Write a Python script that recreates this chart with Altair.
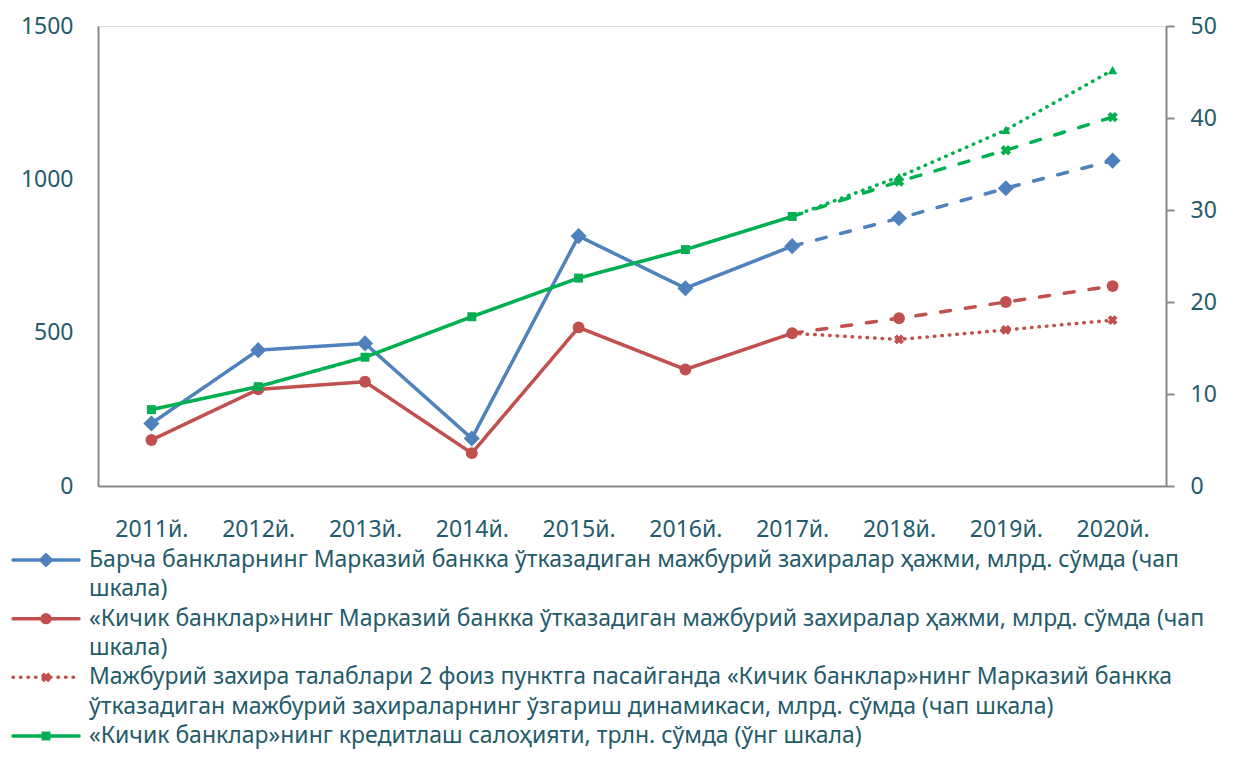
import altair as alt
import pandas as pd

# ---------------- data ----------------
years = ["2011й.", "2012й.", "2013й.", "2014й.", "2015й.", "2016й.",
         "2017й.", "2018й.", "2019й.", "2020й."]
actual_years = years[:7]
proj_years = years[6:]

all_banks = [204, 443, 465, 155, 815, 645, 782]
all_banks_proj = [782, 873, 971, 1061]
small_banks = [150, 315, 340, 107, 517, 380, 498]
small_banks_proj = [498, 547, 600, 652]
small_banks_cut = [498, 478, 509, 541]
credit = [8.3, 10.8, 14.0, 18.4, 22.6, 25.7, 29.3]
credit_proj = [29.3, 33.1, 36.5, 40.1]
credit_proj_cut = [29.3, 33.6, 38.7, 45.2]

left_ticks = [0, 500, 1000, 1500]
right_ticks = [0, 10, 20, 30, 40, 50]

legend_lines = [
    ["Барча банкларнинг Марказий банкка ўтказадиган мажбурий захиралар ҳажми, млрд. сўмда (чап",
     "шкала)"],
    ["«Кичик банклар»нинг Марказий банкка ўтказадиган мажбурий захиралар ҳажми, млрд. сўмда (чап",
     "шкала)"],
    ["Мажбурий захира талаблари 2 фоиз пунктга пасайганда «Кичик банклар»нинг Марказий банкка",
     "ўтказадиган мажбурий захираларнинг ўзгариш динамикаси, млрд. сўмда (чап шкала)"],
    ["«Кичик банклар»нинг кредитлаш салоҳияти, трлн. сўмда (ўнг шкала)"],
]

# ---------------- styles ----------------
BLUE = "#4F81BD"
RED = "#C0504D"
GREEN = "#00B050"
TEXT = "#245B6A"
AXIS = "#878787"
FONT = "Noto Sans"
FS = 23

# series: (name, x labels, values, axis, colour, dash, shape, size, angle)
series_defs = [
    ("all", actual_years, all_banks, "left", BLUE, "solid", "diamond", 260, 0),
    ("all_p", proj_years, all_banks_proj, "left", BLUE, "dash", "diamond", 260, 0),
    ("small", actual_years, small_banks, "left", RED, "solid", "circle", 140, 0),
    ("small_p", proj_years, small_banks_proj, "left", RED, "dash", "circle", 140, 0),
    ("small_c", proj_years, small_banks_cut, "left", RED, "dot", "cross", 100, 45),
    ("credit", actual_years, credit, "right", GREEN, "solid", "square", 80, 0),
    ("credit_p", proj_years, credit_proj, "right", GREEN, "dash", "cross", 110, 45),
    ("credit_c", proj_years, credit_proj_cut, "right", GREEN, "dot", "triangle-up", 90, 0),
]

rows = []
for name, xs, vals, ax, col, dash, shp, sz, ang in series_defs:
    for i, (x, v) in enumerate(zip(xs, vals)):
        rows.append(dict(series=name, year=x, value=v, axis=ax, color=col,
                         dash=dash, shape=shp, size=sz, angle=ang,
                         first=(i == 0 and dash != "solid")))
df = pd.DataFrame(rows)

dash_scale = alt.Scale(domain=["solid", "dash", "dot"],
                       range=[[1, 0], [10, 15], [0.5, 7]])

x_enc = alt.X("year:O", sort=years,
              scale=alt.Scale(type="point", padding=0.5),
              axis=alt.Axis(title=None, labelAngle=0, ticks=False,
                            labelPadding=32, domainColor=AXIS, domainWidth=2,
                            labelColor=TEXT, labelFontSize=FS, labelFont=FONT))


def layer_for(side, domain, axis):
    d = df[df["axis"] == side]
    y_enc = alt.Y("value:Q", scale=alt.Scale(domain=domain, nice=False), axis=axis)
    lines = alt.Chart(d).mark_line(strokeWidth=3.5, strokeCap="round",
                                   strokeJoin="round").encode(
        x=x_enc, y=y_enc,
        color=alt.Color("color:N", scale=None),
        strokeDash=alt.StrokeDash("dash:N", scale=dash_scale, legend=None),
        detail="series:N",
    )
    pts = alt.Chart(d[~d["first"]]).mark_point(filled=True, opacity=1).encode(
        x=x_enc, y=y_enc,
        color=alt.Color("color:N", scale=None),
        shape=alt.Shape("shape:N", scale=None),
        size=alt.Size("size:Q", scale=None),
        angle=alt.Angle("angle:Q", scale=None),
    )
    return lines + pts


left_axis = alt.Axis(title=None, orient="left", values=left_ticks, format="d",
                     ticks=False, grid=False, labelPadding=25, domainColor=AXIS,
                     domainWidth=2, labelColor=TEXT, labelFontSize=FS,
                     labelFont=FONT, minExtent=87, maxExtent=87)
right_axis = alt.Axis(title=None, orient="right", values=right_ticks, format="d",
                      ticks=True, tickSize=8, tickColor=AXIS, tickWidth=2,
                      grid=False, labelPadding=16, domainColor=AXIS,
                      domainWidth=2, labelColor=TEXT, labelFontSize=FS,
                      labelFont=FONT)

main = alt.layer(
    layer_for("left", [0, 1500], left_axis),
    layer_for("right", [0, 50], right_axis),
).resolve_scale(y="independent", color="independent", shape="independent",
                size="independent", strokeDash="independent", angle="independent"
).properties(width=1068, height=460)

# ---------------- legend ----------------
legend_styles = [
    (BLUE, "solid", "diamond", 230, 0),
    (RED, "solid", "circle", 130, 0),
    (RED, "dot", "cross", 100, 45),
    (GREEN, "solid", "square", 80, 0),
]
text_rows = []
sym_rows = []
r = 0
for k, lines in enumerate(legend_lines):
    col, dash, shp, sz, ang = legend_styles[k]
    sym_rows.append(dict(row=r, color=col, dash=dash, shape=shp, size=sz, angle=ang))
    for ln in lines:
        text_rows.append(dict(row=r, text=ln))
        r += 1
tdf = pd.DataFrame(text_rows)
sdf = pd.DataFrame(sym_rows)

y_leg = alt.Y("row:Q", scale=alt.Scale(domain=[0, 6], reverse=True), axis=None)

leg_rules = alt.Chart(sdf).mark_rule(strokeWidth=3.5, strokeCap="round").encode(
    x=alt.value(-85), x2=alt.value(-19), y=y_leg,
    color=alt.Color("color:N", scale=None),
    strokeDash=alt.StrokeDash("dash:N", scale=dash_scale, legend=None),
)
leg_pts = alt.Chart(sdf).mark_point(filled=True, opacity=1).encode(
    x=alt.value(-52), y=y_leg,
    color=alt.Color("color:N", scale=None),
    shape=alt.Shape("shape:N", scale=None),
    size=alt.Size("size:Q", scale=None),
    angle=alt.Angle("angle:Q", scale=None),
)
leg_text = alt.Chart(tdf).mark_text(align="left", baseline="middle", font=FONT,
                                    fontSize=FS, color=TEXT).encode(
    x=alt.value(-9), y=y_leg, text="text:N",
)
legend = alt.layer(leg_rules, leg_pts, leg_text).resolve_scale(
    color="independent", shape="independent", size="independent",
    strokeDash="independent", angle="independent"
).properties(width=1068, height=176,
             view=alt.ViewBackground(stroke="transparent", strokeWidth=0))

chart = alt.vconcat(main, legend, spacing=7).properties(
    padding={"left": 2, "top": 6, "right": 2, "bottom": 6}
).configure_view(stroke="transparent", strokeWidth=0).configure(background="white")

chart.save("out.html", embed_options={"renderer": "svg", "actions": False})
